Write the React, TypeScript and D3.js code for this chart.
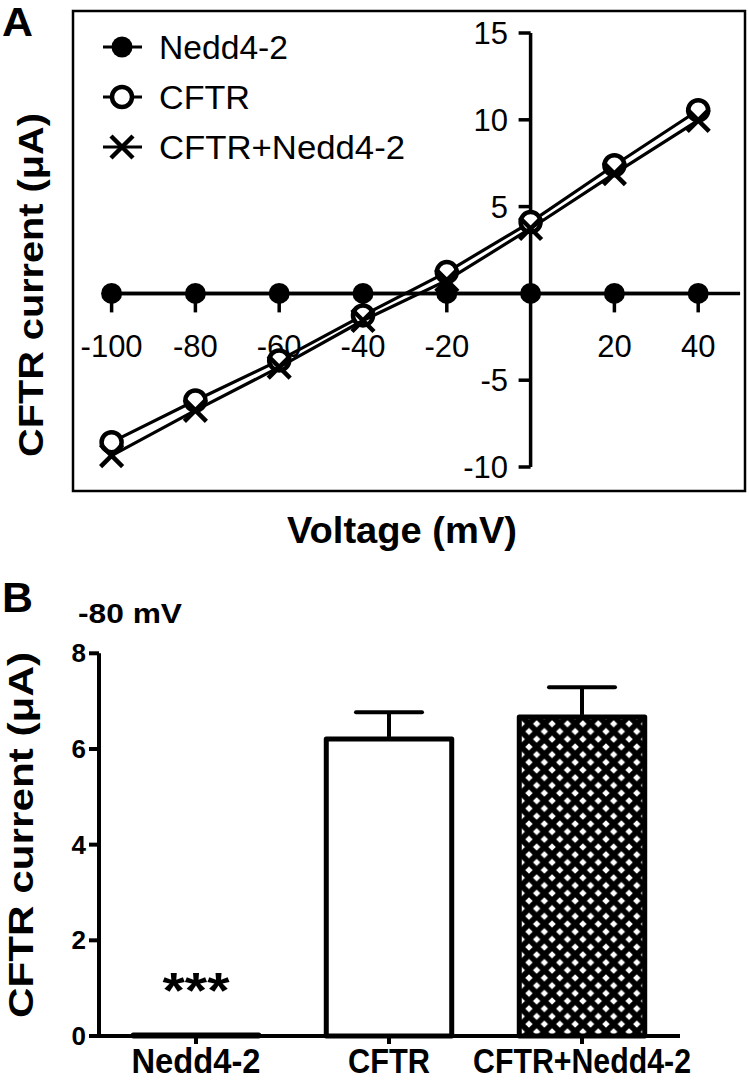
import React from 'react';
import * as d3 from 'd3';

// ---- Panel A data (I–V relationship) ----
const voltages = [-100, -80, -60, -40, -20, 0, 20, 40];
const nedd42Current = [0, 0, 0, 0, 0, 0, 0, 0];
const cftrCurrent = [-8.57, -6.17, -3.86, -1.27, 1.23, 4.11, 7.38, 10.55];
const cftrNeddCurrent = [-9.34, -6.74, -4.25, -1.56, 0.75, 3.74, 6.9, 9.97];
const seriesNames = ['Nedd4-2', 'CFTR', 'CFTR+Nedd4-2'];
const xTicksA = [-100, -80, -60, -40, -20, 20, 40];
const yTicksA = [15, 10, 5, -5, -10];

// ---- Panel B data (current at -80 mV) ----
const barCategories = ['Nedd4-2', 'CFTR', 'CFTR+Nedd4-2'];
const barMeans = [0.02, 6.21, 6.67];
const barErrors = [0, 0.56, 0.62];
const yTicksB = [0, 2, 4, 6, 8];

const FONT = '"Liberation Sans", Arial, Helvetica, sans-serif';

const xA = d3.scaleLinear().domain([-100, 40]).range([111.6, 698.2]);
const yA = d3.scaleLinear().domain([-10, 15]).range([467, 33]);

const xB = d3.scaleBand<string>().domain(barCategories).range([99.5, 678.5]).paddingInner(0.35).paddingOuter(0.175);
const yB = d3.scaleLinear().domain([0, 8]).range([1036, 653.3]);

const lineGen = d3.line<[number, number]>().x((d) => xA(d[0])).y((d) => yA(d[1]));

function pts(vals: number[]): [number, number][] {
  return voltages.map((v, i) => [v, vals[i]] as [number, number]);
}

function XMark({ cx, cy, r, sw }: { cx: number; cy: number; r: number; sw: number }) {
  return (
    <path
      d={`M${cx - r},${cy - r}L${cx + r},${cy + r}M${cx + r},${cy - r}L${cx - r},${cy + r}`}
      stroke="#000"
      strokeWidth={sw}
      fill="none"
    />
  );
}

export default function App() {
  const x0 = xA(0);
  const y0 = yA(0);
  const legendRows = [47, 97, 147];
  const legendWidths = [129, 91, 246];
  const hatch = 15.4;
  const hd = 3.7;
  const diamond = (cx: number, cy: number) => `M${cx},${cy - hd}L${cx + hd},${cy}L${cx},${cy + hd}L${cx - hd},${cy}Z`;
  const bw = xB.bandwidth();

  return (
    <div style={{ position: 'absolute', left: 0, top: 0 }}>
      <svg width={749} height={1080} style={{ display: 'block', background: '#fff' }} fontFamily={FONT}>
        <defs>
          <pattern id="xhatch" patternUnits="userSpaceOnUse" width={hatch} height={hatch} x={(xB('CFTR+Nedd4-2') as number) + 2} y={0}>
            <rect width={hatch} height={hatch} fill="#000" />
            <path
              d={[diamond(hatch / 2, hatch / 2), diamond(0, 0), diamond(hatch, 0), diamond(0, hatch), diamond(hatch, hatch)].join('')}
              fill="#fff"
            />
          </pattern>
        </defs>

        {/* ================= Panel A ================= */}
        <text x={2} y={36} fontSize={40} fontWeight="bold" textLength={31} lengthAdjust="spacingAndGlyphs">A</text>
        <rect x={73} y={11} width={672} height={480} fill="none" stroke="#000" strokeWidth={2.5} />

        {/* x axis */}
        <line x1={xA(-100)} x2={xA(50)} y1={y0} y2={y0} stroke="#000" strokeWidth={3.5} />
        {xTicksA.map((t) => (
          <g key={`xt${t}`}>
            <line x1={xA(t)} x2={xA(t)} y1={y0} y2={y0 + 19} stroke="#000" strokeWidth={3.5} />
            <text x={xA(t)} y={357} fontSize={31} textAnchor="middle">{t}</text>
          </g>
        ))}
        {/* y axis */}
        <line x1={x0} x2={x0} y1={yA(15)} y2={yA(-10)} stroke="#000" strokeWidth={3.5} />
        {yTicksA.map((t) => (
          <g key={`yt${t}`}>
            <line x1={x0 - 12} x2={x0} y1={yA(t)} y2={yA(t)} stroke="#000" strokeWidth={3.5} />
            <text x={508} y={yA(t) + 11} fontSize={31} textAnchor="end">{t}</text>
          </g>
        ))}

        {/* Nedd4-2 series */}
        <path d={lineGen(pts(nedd42Current)) || ''} stroke="#000" strokeWidth={3.5} fill="none" />
        {voltages.map((v, i) => (
          <circle key={`n${v}`} cx={xA(v)} cy={yA(nedd42Current[i])} r={10.5} fill="#000" />
        ))}

        {/* CFTR series */}
        <path d={lineGen(pts(cftrCurrent)) || ''} stroke="#000" strokeWidth={3.2} fill="none" />
        {voltages.map((v, i) => (
          <circle key={`c${v}`} cx={xA(v)} cy={yA(cftrCurrent[i])} r={10} fill="#fff" stroke="#000" strokeWidth={4.5} />
        ))}

        {/* CFTR+Nedd4-2 series */}
        <path d={lineGen(pts(cftrNeddCurrent)) || ''} stroke="#000" strokeWidth={3.2} fill="none" />
        {voltages.map((v, i) => (
          <XMark key={`x${v}`} cx={xA(v)} cy={yA(cftrNeddCurrent[i])} r={11} sw={4.5} />
        ))}

        {/* legend */}
        {seriesNames.map((name, i) => {
          const ly = legendRows[i];
          return (
            <g key={name}>
              <line x1={103} x2={142} y1={ly} y2={ly} stroke="#000" strokeWidth={3} />
              {i === 0 && <circle cx={122} cy={ly} r={10.5} fill="#000" />}
              {i === 1 && <circle cx={122} cy={ly} r={10} fill="#fff" stroke="#000" strokeWidth={4.5} />}
              {i === 2 && <XMark cx={122} cy={ly} r={11} sw={4.5} />}
              <text x={159} y={ly + 12} fontSize={34} textLength={legendWidths[i]} lengthAdjust="spacingAndGlyphs">{name}</text>
            </g>
          );
        })}

        {/* axis titles */}
        <text
          transform={`translate(43,285) rotate(-90)`}
          fontSize={35}
          fontWeight="bold"
          textAnchor="middle"
          textLength={344}
          lengthAdjust="spacingAndGlyphs"
        >
          CFTR current (μA)
        </text>
        <text x={402} y={543} fontSize={37} fontWeight="bold" textAnchor="middle" textLength={230} lengthAdjust="spacingAndGlyphs">
          Voltage (mV)
        </text>

        {/* ================= Panel B ================= */}
        <text x={2} y={612} fontSize={42} fontWeight="bold" textLength={31} lengthAdjust="spacingAndGlyphs">B</text>
        <text x={78} y={623} fontSize={28} fontWeight="bold" textLength={104} lengthAdjust="spacingAndGlyphs">-80 mV</text>

        <text
          transform={`translate(33,835) rotate(-90)`}
          fontSize={35}
          fontWeight="bold"
          textAnchor="middle"
          textLength={366}
          lengthAdjust="spacingAndGlyphs"
        >
          CFTR current (μA)
        </text>

        {/* bars */}
        {barCategories.map((c, i) => {
          const bx = xB(c) as number;
          const top = yB(barMeans[i]);
          const h = Math.max(yB(0) - top, 0.5);
          return (
            <rect
              key={`b${c}`}
              x={bx}
              y={yB(0) - h}
              width={bw}
              height={h}
              fill={i === 2 ? 'url(#xhatch)' : '#fff'}
              stroke="#000"
              strokeWidth={5}
              strokeLinejoin="round"
            />
          );
        })}
        {/* error bars */}
        {barCategories.map((c, i) =>
          barErrors[i] > 0 ? (
            <g key={`e${c}`}>
              <line
                x1={(xB(c) as number) + bw / 2}
                x2={(xB(c) as number) + bw / 2}
                y1={yB(barMeans[i]) - 2}
                y2={yB(barMeans[i] + barErrors[i])}
                stroke="#000"
                strokeWidth={4}
              />
              <line
                x1={(xB(c) as number) + bw / 2 - 33}
                x2={(xB(c) as number) + bw / 2 + 33}
                y1={yB(barMeans[i] + barErrors[i])}
                y2={yB(barMeans[i] + barErrors[i])}
                stroke="#000"
                strokeWidth={4}
                strokeLinecap="round"
              />
            </g>
          ) : null
        )}

        {/* axes B */}
        <line x1={99} x2={99} y1={yB(8)} y2={yB(0)} stroke="#000" strokeWidth={4} />
        <line x1={89} x2={680} y1={yB(0)} y2={yB(0)} stroke="#000" strokeWidth={4} />
        {yTicksB.map((t) => (
          <g key={`ytb${t}`}>
            <line x1={89} x2={99} y1={yB(t)} y2={yB(t)} stroke="#000" strokeWidth={4} />
            <text x={86} y={yB(t) + 9} fontSize={26} fontWeight="bold" textAnchor="end">{t}</text>
          </g>
        ))}
        {barCategories.map((c, i) => {
          const cx = (xB(c) as number) + bw / 2;
          const widths = [129, 82, 218];
          return (
            <g key={`xtb${c}`}>
              <line x1={cx} x2={cx} y1={yB(0)} y2={yB(0) + 8} stroke="#000" strokeWidth={4} />
              <text x={cx} y={1073} fontSize={35} fontWeight="bold" textAnchor="middle" textLength={widths[i]} lengthAdjust="spacingAndGlyphs">
                {c}
              </text>
            </g>
          );
        })}

        {/* significance */}
        <text
          x={(xB('Nedd4-2') as number) + bw / 2}
          y={1008}
          fontSize={50}
          fontWeight="bold"
          textAnchor="middle"
          textLength={67}
          lengthAdjust="spacingAndGlyphs"
        >
          ***
        </text>
      </svg>
    </div>
  );
}
